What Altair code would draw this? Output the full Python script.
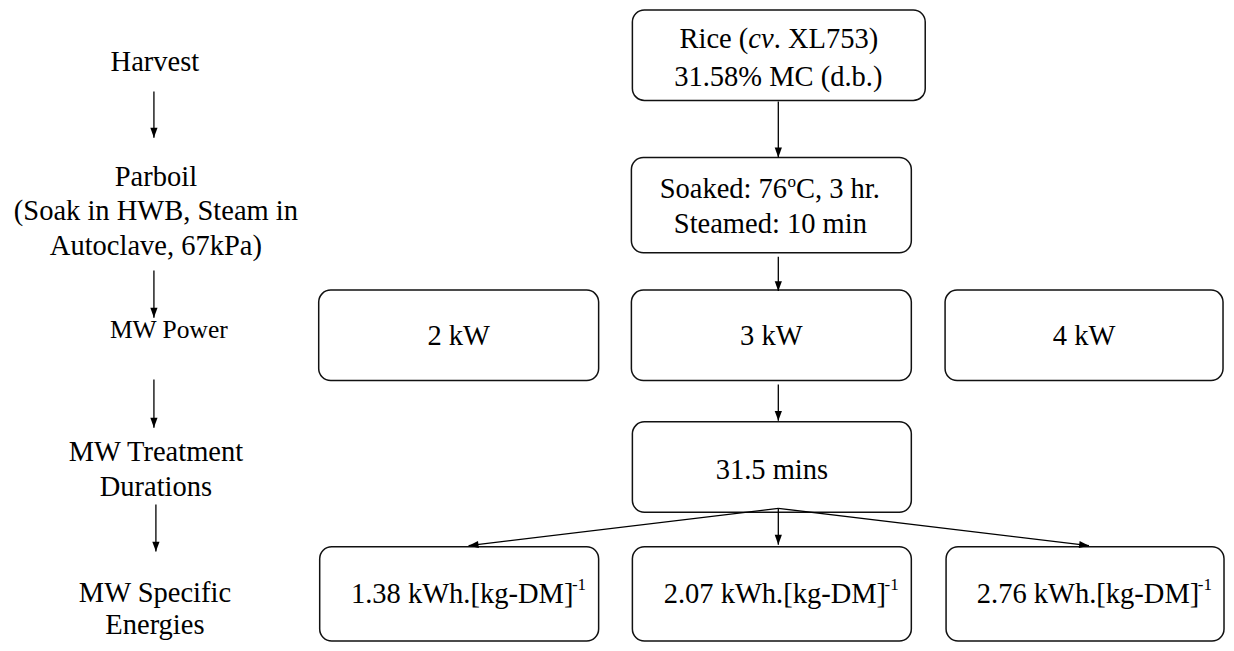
import altair as alt
import pandas as pd
import numpy as np

# ---------------- data (reference pixel coordinates) ----------------
# left column: stage labels
stage_text = ["Harvest", "Parboil", "(Soak in HWB, Steam in", "Autoclave, 67kPa)",
              "MW Power", "MW Treatment", "Durations", "MW Specific", "Energies"]
stage_x = [156, 157, 157, 157, 170, 157, 157, 156, 156]
stage_y = [60, 177, 212, 247, 333, 457, 492, 600, 633]
stage_fs = [28.5, 28.5, 28.5, 28.5, 25.5, 28.5, 28.5, 28.5, 28.5]

# boxes of the flow chart
box_name = ["rice", "soak", "p2", "p3", "p4", "dur", "e1", "e2", "e3"]
box_x1 = [637, 636, 321, 636, 952, 637, 322, 637, 953]
box_x2 = [932, 918, 603, 918, 1232, 918, 603, 918, 1233]
box_y1 = [7, 157, 292, 292, 292, 426, 553, 553, 553]
box_y2 = [99, 254, 384, 384, 384, 518, 649, 649, 649]

# arrows (start -> tip)
arr_x1 = [155, 155, 155, 157, 784, 784, 784, 784, 784, 784]
arr_y1 = [90, 272, 383, 510, 100, 258, 388, 514, 514, 514]
arr_x2 = [155, 155, 155, 157, 784, 784, 784, 784, 472, 1097]
arr_y2 = [137, 320, 432, 558, 157, 293, 425, 551, 552, 552]

# plain box labels (centred)
lab_text = ["31.58% MC (d.b.)", "Steamed: 10 min", "2 kW", "3 kW", "4 kW", "31.5 mins"]
lab_x = [784, 776, 462, 777, 1092, 777.5]
lab_y = [75, 225, 339, 339, 339, 475]

# energies with superscript -1
energy_text = ["1.38 kWh.[kg-DM]", "2.07 kWh.[kg-DM]", "2.76 kWh.[kg-DM]"]
energy_cx = [462.5, 777.5, 1093]
energy_y = [601, 601, 601]

# ---------------- scales ----------------
XD = [8, 1235]
YD = [5, 651]
W, H = 1218, 635
xs = alt.Scale(domain=XD, nice=False, zero=False)
ys = alt.Scale(domain=YD, nice=False, zero=False, reverse=True)
FONT = "Liberation Serif"
FS = 28.5

def X(f):
    return alt.X(f, type="quantitative", scale=xs, axis=None)

def Y(f):
    return alt.Y(f, type="quantitative", scale=ys, axis=None)

boxes = pd.DataFrame(dict(name=box_name, x1=box_x1, x2=box_x2, y1=box_y1, y2=box_y2))
box_layer = alt.Chart(boxes).mark_rect(
    cornerRadius=12, fill="white", stroke="#111111", strokeWidth=1.5
).encode(x=X("x1"), x2="x2", y=Y("y1"), y2="y2")

arrows = pd.DataFrame(dict(x1=arr_x1, y1=arr_y1, x2=arr_x2, y2=arr_y2))
sx = W / (XD[1] - XD[0])
sy = H / (YD[1] - YD[0])
dx = (arrows.x2 - arrows.x1) * sx
dy = (arrows.y2 - arrows.y1) * sy
arrows["ang"] = np.mod(np.degrees(np.arctan2(-dx, dy)), 360)

rule_layer = alt.Chart(arrows).mark_rule(color="black", strokeWidth=1.3).encode(
    x=X("x1"), y=Y("y1"), x2="x2", y2="y2"
)
head_layer = alt.Chart(arrows).mark_point(
    shape="M0,0 L-0.8,-2.2 L0.8,-2.2 Z", filled=True, color="black",
    size=81, opacity=1, strokeWidth=0
).encode(x=X("x2"), y=Y("y2"), angle=alt.Angle("ang:Q", scale=None))

# ---- texts ----
stages = pd.DataFrame(dict(t=stage_text, x=stage_x, y=stage_y, s=stage_fs))
stage_layer = alt.Chart(stages).mark_text(
    font=FONT, baseline="middle", align="center", color="black"
).encode(x=X("x"), y=Y("y"), text="t:N", size=alt.Size("s:Q", scale=None))

# text pieces: widths in data units (Times metrics)
u = FS * (XD[1] - XD[0]) / W           # data units per em at FS
us = 17 * (XD[1] - XD[0]) / W          # data units per em at superscript size

center_rows = [dict(t=t, x=x, y=y) for t, x, y in zip(lab_text, lab_x, lab_y)]
right_rows, left_rows, ital_rows, sup_rows = [], [], [], []

# "Rice (cv. XL753)"
w1, w2, w3 = 2.416 * u, 0.888 * u, 3.666 * u
start = 784.5 - (w1 + w2 + w3) / 2
right_rows.append(dict(t="Rice (", x=start + w1, y=37))
ital_rows.append(dict(t="cv", x=start + w1 + w2 / 2, y=37))
left_rows.append(dict(t=". XL753)", x=start + w1 + w2, y=37))

# "Soaked: 76oC, 3 hr."
w1, w2, w3 = 4.472 * u, 0.5 * us, 3.0 * u
start = 776 - (w1 + w2 + w3) / 2
right_rows.append(dict(t="Soaked: 76", x=start + w1, y=189))
sup_rows.append(dict(t="o", x=start + w1 + 0.3, y=182))
left_rows.append(dict(t="C, 3 hr.", x=start + w1 + w2 + 0.3, y=189))

# energies
for t, cx, y in zip(energy_text, energy_cx, energy_y):
    w1, w2 = 8.304 * u, 0.833 * us
    a = cx - (w1 + w2) / 2 + w1 + 3
    right_rows.append(dict(t=t, x=a, y=y))
    sup_rows.append(dict(t="-1", x=a - 1.5, y=y - 9))

def text_layer(rows, align, size, style="normal"):
    return alt.Chart(pd.DataFrame(rows)).mark_text(
        font=FONT, baseline="middle", align=align, color="black",
        fontSize=size, fontStyle=style
    ).encode(x=X("x"), y=Y("y"), text="t:N")

chart = alt.layer(
    box_layer,
    rule_layer,
    head_layer,
    stage_layer,
    text_layer(center_rows, "center", FS),
    text_layer(right_rows, "right", FS),
    text_layer(left_rows, "left", FS),
    text_layer(ital_rows, "center", FS, "italic"),
    text_layer(sup_rows, "left", 17),
).properties(width=W, height=H, padding=0).configure_view(stroke=None)

chart.save("out.html", embed_options={"renderer": "svg", "actions": False})
